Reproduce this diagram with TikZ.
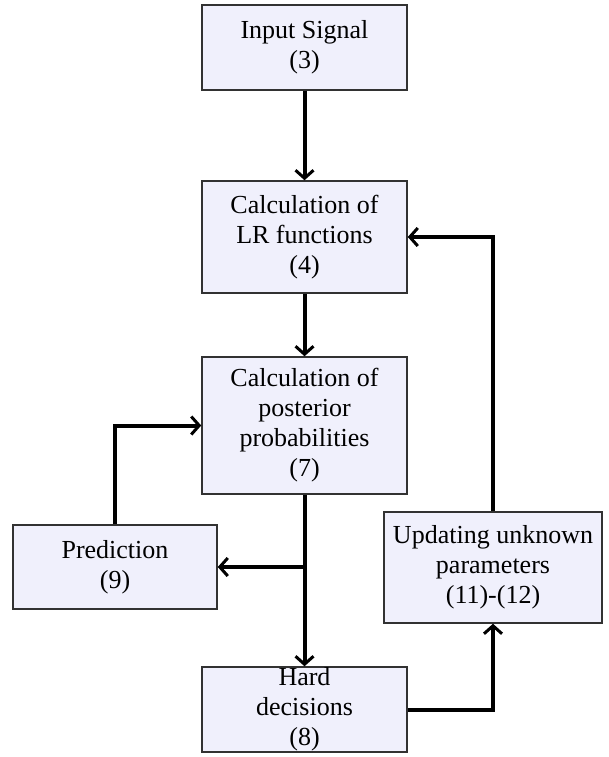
\documentclass[tikz,border=0pt]{standalone}
\usepackage{fontspec}
\setmainfont{Liberation Serif}
\usetikzlibrary{arrows.meta,calc}
\definecolor{boxfill}{RGB}{240,240,252}
\definecolor{boxline}{RGB}{50,50,50}
\begin{document}
\begin{tikzpicture}[x=1pt,y=-1pt,
  blk/.style={draw=boxline,line width=1.5pt,fill=boxfill,align=center,
    inner sep=0pt,font=\fontsize{26}{30}\selectfont},
  conn/.style={line width=4pt,-{Straight Barb[length=8pt,width=18pt,line width=3pt]}},
  plain/.style={line width=4pt}]
\useasboundingbox (0,0) rectangle (608,757);
\node[blk,minimum width=205pt,minimum height=85pt] (in) at (304.5,47.5) {Input Signal\\(3)};
\node[blk,minimum width=205pt,minimum height=112pt] (lr) at (304.5,237) {Calculation of\\LR functions\\(4)};
\node[blk,minimum width=205pt,minimum height=137pt] (post) at (304.5,425.5) {Calculation of\\posterior\\probabilities\\(7)};
\node[blk,minimum width=204pt,minimum height=84pt] (pred) at (115,567) {Prediction\\(9)};
\node[blk,minimum width=218pt,minimum height=111pt] (upd) at (493,567.5) {Updating unknown\\parameters\\(11)-(12)};
\node[blk,minimum width=205pt,minimum height=85pt] (hard) at (304.5,709.5) {Hard\\decisions\\(8)};
\coordinate (j) at (post.south |- pred.east);
\draw[conn] (in.south) -- (lr.north);
\draw[conn] (lr.south) -- (post.north);
\draw[plain] (post.south) -- (j);
\draw[conn] (j) -- (hard.north);
\draw[conn] (j) -- (pred.east);
\draw[conn] (pred.north) |- (post.west);
\draw[conn] (hard.east) -| (upd.south);
\draw[conn] (upd.north) |- (lr.east);
\end{tikzpicture}
\end{document}
